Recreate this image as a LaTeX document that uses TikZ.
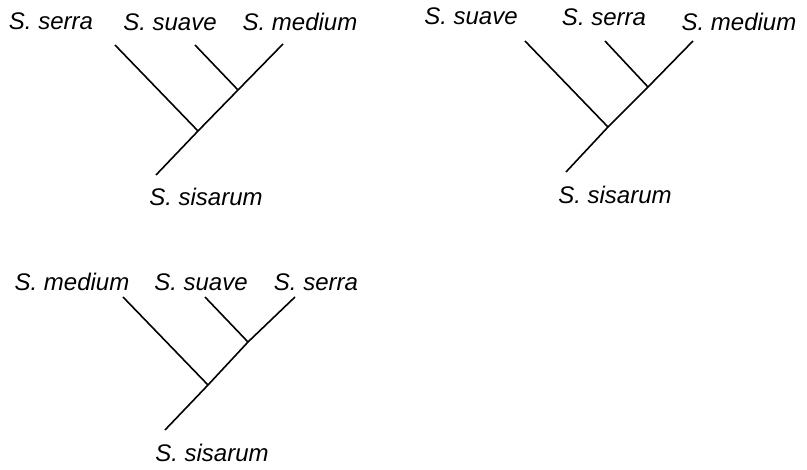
\documentclass[tikz,border=0pt]{standalone}
\usepackage{fontspec}
\setmainfont{Liberation Sans}
\begin{document}
\begin{tikzpicture}
[
    x=1pt, y=-1pt,
    taxon/.style={font=\itshape\fontsize{24}{28}\selectfont, inner sep=0pt},
    branch/.style={line width=1.6pt},
]
\useasboundingbox (0,0) rectangle (807,470);
% first tree
\node[taxon] (serraA) at (51,21) {S. serra};
\node[taxon] (suaveA) at (170,22) {S. suave};
\node[taxon] (mediumA) at (300,22) {S. medium};
\node[taxon] (sisarumA) at (206,197) {S. sisarum};
\coordinate (leafA1) at (115,45);
\coordinate (leafA2) at (195,45);
\coordinate (leafA3) at (283,44);
\coordinate (innerA) at (238,90);
\coordinate (forkA) at (198,131);
\coordinate (rootA) at (156,175);
\draw[branch] (rootA) -- (forkA) -- (innerA) -- (leafA3);
\draw[branch] (forkA) -- (leafA1);
\draw[branch] (innerA) -- (leafA2);
% second tree
\node[taxon] (suaveB) at (471,16) {S. suave};
\node[taxon] (serraB) at (604,17) {S. serra};
\node[taxon] (mediumB) at (739,22) {S. medium};
\node[taxon] (sisarumB) at (615,195) {S. sisarum};
\coordinate (leafB1) at (525,41);
\coordinate (leafB2) at (605,41);
\coordinate (leafB3) at (693,41);
\coordinate (innerB) at (648,87);
\coordinate (forkB) at (608,127);
\coordinate (rootB) at (566,172);
\draw[branch] (rootB) -- (forkB) -- (innerB) -- (leafB3);
\draw[branch] (forkB) -- (leafB1);
\draw[branch] (innerB) -- (leafB2);
% third tree
\node[taxon] (mediumC) at (72,282) {S. medium};
\node[taxon] (suaveC) at (201,282) {S. suave};
\node[taxon] (serraC) at (316,282) {S. serra};
\node[taxon] (sisarumC) at (212,453) {S. sisarum};
\coordinate (leafC1) at (123,297);
\coordinate (leafC2) at (205,297);
\coordinate (leafC3) at (295,297);
\coordinate (innerC) at (248,342);
\coordinate (forkC) at (208,385);
\coordinate (rootC) at (165,430);
\draw[branch] (rootC) -- (forkC) -- (innerC) -- (leafC3);
\draw[branch] (forkC) -- (leafC1);
\draw[branch] (innerC) -- (leafC2);
\end{tikzpicture}
\end{document}
